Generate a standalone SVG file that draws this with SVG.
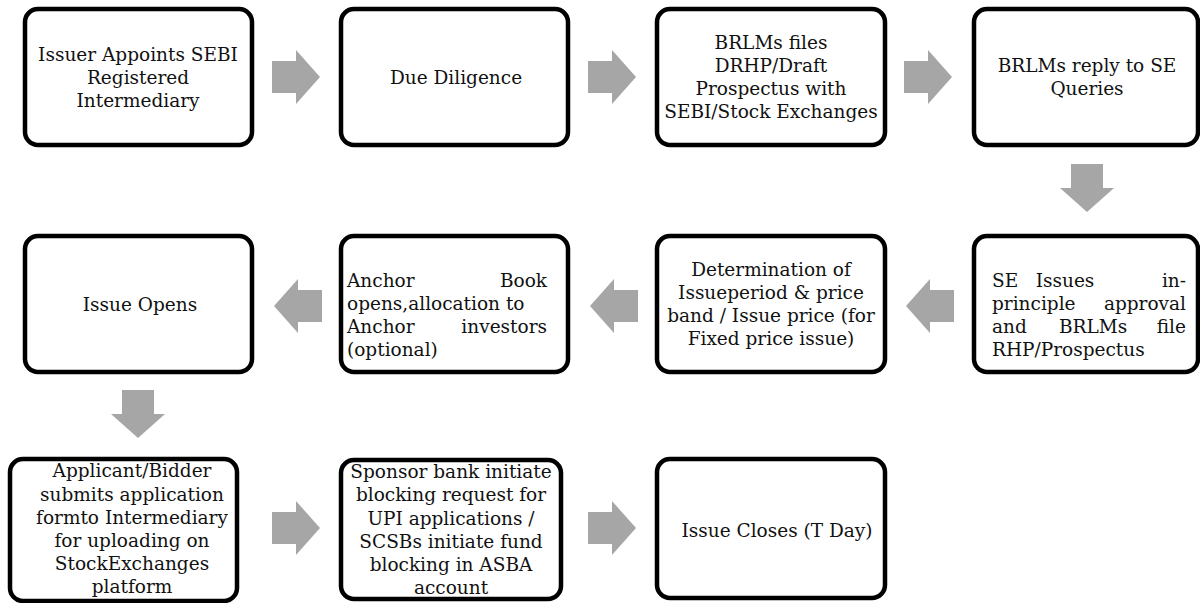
<svg xmlns="http://www.w3.org/2000/svg" xmlns:xlink="http://www.w3.org/1999/xlink" width="1200" height="603" viewBox="0 0 1200 603">
<style>
.box{fill:#fff;stroke:#000;stroke-width:4.5}
.t{font-family:"DejaVu Serif","Liberation Serif",serif;font-size:18.5px;fill:#111}
.c{text-anchor:middle}
.e{text-anchor:end}
.arr{fill:#a6a6a6}
</style>
<defs>
<path id="ar" d="M-24,-16 L0,-16 L0,-27 L24,0 L0,27 L0,16 L-24,16 Z"/>
</defs>
<rect width="1200" height="603" fill="#fff"/>
<g id="connectors" class="arr">
<use xlink:href="#ar" transform="translate(296,77)"/>
<use xlink:href="#ar" transform="translate(612,77)"/>
<use xlink:href="#ar" transform="translate(928,77)"/>
<use xlink:href="#ar" transform="translate(1087,188) rotate(90)"/>
<use xlink:href="#ar" transform="translate(930,306) rotate(180)"/>
<use xlink:href="#ar" transform="translate(614,306) rotate(180)"/>
<use xlink:href="#ar" transform="translate(298,306) rotate(180)"/>
<use xlink:href="#ar" transform="translate(138,414) rotate(90)"/>
<use xlink:href="#ar" transform="translate(296,528)"/>
<use xlink:href="#ar" transform="translate(612,528)"/>
</g>
<g id="n1"><rect class="box" x="25" y="9" width="227" height="136" rx="13"/>
<text class="t c" x="138"><tspan x="138" y="61">Issuer Appoints SEBI</tspan><tspan x="138" y="84">Registered</tspan><tspan x="138" y="107">Intermediary</tspan></text></g>
<g id="n2"><rect class="box" x="341" y="9" width="227" height="136" rx="13"/>
<text class="t c" x="456" y="84">Due Diligence</text></g>
<g id="n3"><rect class="box" x="657" y="9" width="228" height="136" rx="13"/>
<text class="t c"><tspan x="771" y="49">BRLMs files</tspan><tspan x="771" y="72">DRHP/Draft</tspan><tspan x="771" y="95">Prospectus with</tspan><tspan x="771" y="118">SEBI/Stock Exchanges</tspan></text></g>
<g id="n4"><rect class="box" x="974" y="9" width="224" height="136" rx="13"/>
<text class="t c"><tspan x="1087" y="72">BRLMs reply to SE</tspan><tspan x="1087" y="95">Queries</tspan></text></g>
<g id="n8"><rect class="box" x="974" y="236" width="224" height="136" rx="13"/>
<text class="t"><tspan x="992" y="287">SE</tspan><tspan x="1065" y="287" text-anchor="middle">Issues</tspan><tspan x="1186" y="287" text-anchor="end">in-</tspan></text>
<text class="t"><tspan x="992" y="310">principle</tspan><tspan x="1186" y="310" text-anchor="end">approval</tspan></text>
<text class="t"><tspan x="992" y="333">and</tspan><tspan x="1093" y="333" text-anchor="middle">BRLMs</tspan><tspan x="1186" y="333" text-anchor="end">file</tspan></text>
<text class="t" x="992" y="356">RHP/Prospectus</text></g>
<g id="n7"><rect class="box" x="657" y="236" width="228" height="136" rx="13"/>
<text class="t c"><tspan x="771" y="276">Determination of</tspan><tspan x="771" y="299">Issueperiod &amp; price</tspan><tspan x="771" y="322">band / Issue price (for</tspan><tspan x="771" y="345">Fixed price issue)</tspan></text></g>
<g id="n6"><rect class="box" x="341" y="236" width="227" height="136" rx="13"/>
<text class="t"><tspan x="347" y="287">Anchor</tspan><tspan x="547" y="287" text-anchor="end">Book</tspan></text>
<text class="t" x="347" y="310">opens,allocation to</text>
<text class="t"><tspan x="347" y="333">Anchor</tspan><tspan x="547" y="333" text-anchor="end">investors</tspan></text>
<text class="t" x="347" y="356">(optional)</text></g>
<g id="n5"><rect class="box" x="25" y="236" width="227" height="136" rx="13"/>
<text class="t c" x="140" y="311">Issue Opens</text></g>
<g id="n9"><rect class="box" x="10" y="459" width="227" height="142" rx="13"/>
<text class="t c"><tspan x="132" y="477">Applicant/Bidder</tspan><tspan x="132" y="501">submits application</tspan><tspan x="132" y="524">formto Intermediary</tspan><tspan x="132" y="547">for uploading on</tspan><tspan x="132" y="570">StockExchanges</tspan><tspan x="132" y="593">platform</tspan></text></g>
<g id="n10"><rect class="box" x="341" y="460" width="220" height="139" rx="13"/>
<text class="t c"><tspan x="451" y="478">Sponsor bank initiate</tspan><tspan x="451" y="501">blocking request for</tspan><tspan x="451" y="525">UPI applications /</tspan><tspan x="451" y="548">SCSBs initiate fund</tspan><tspan x="451" y="571">blocking in ASBA</tspan><tspan x="451" y="594">account</tspan></text></g>
<g id="n11"><rect class="box" x="657" y="459" width="228" height="139" rx="13"/>
<text class="t c" x="777" y="537">Issue Closes (T Day)</text></g>
</svg>
